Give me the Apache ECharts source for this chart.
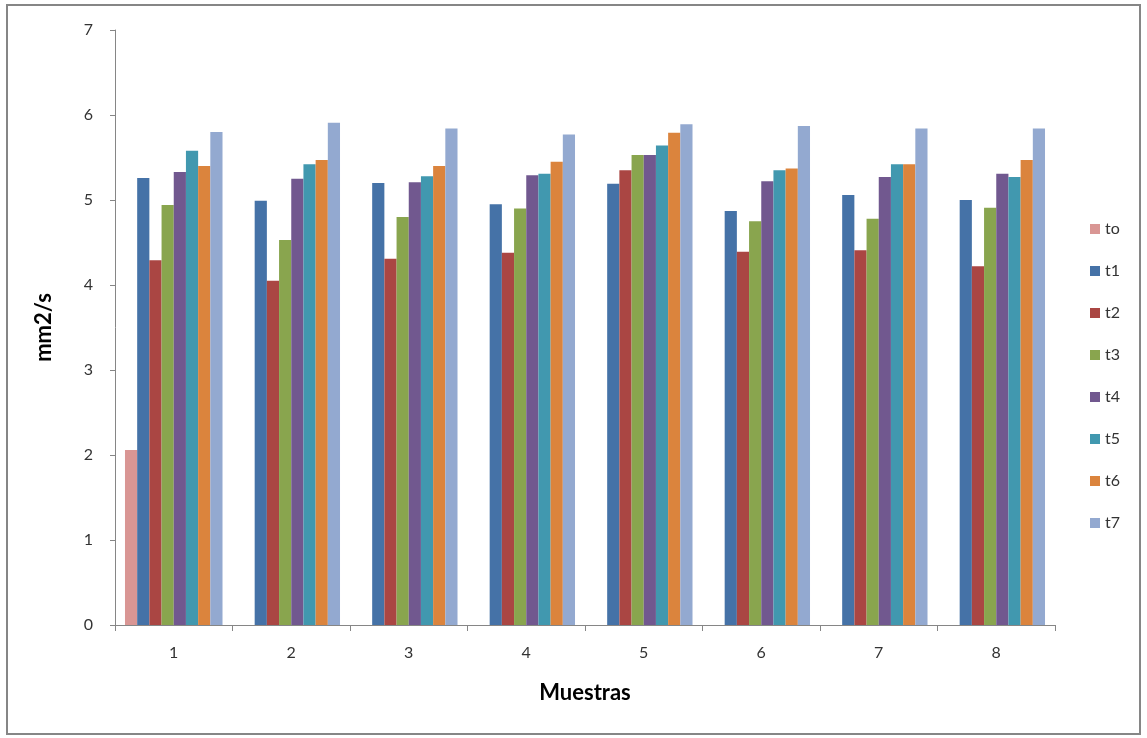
<!DOCTYPE html>
<html>
<head>
<meta charset="utf-8">
<script src="https://cdn.jsdelivr.net/npm/echarts@6/dist/echarts.min.js"></script>
<style>
  html, body { margin: 0; padding: 0; background: #fff; }
  #chart { width: 1147px; height: 738px; }
</style>
</head>
<body>
<div id="chart"></div>
<script>
// Samples on the category axis
const muestras = ['1', '2', '3', '4', '5', '6', '7', '8'];

// Viscosity (mm2/s) per sample at each time point
const to = [2.06, null, null, null, null, null, null, null];
const t1 = [5.26, 4.99, 5.20, 4.95, 5.19, 4.87, 5.06, 5.00];
const t2 = [4.29, 4.05, 4.31, 4.38, 5.35, 4.39, 4.41, 4.22];
const t3 = [4.94, 4.53, 4.80, 4.90, 5.53, 4.75, 4.78, 4.91];
const t4 = [5.33, 5.25, 5.21, 5.29, 5.53, 5.22, 5.27, 5.31];
const t5 = [5.58, 5.42, 5.28, 5.31, 5.64, 5.35, 5.42, 5.27];
const t6 = [5.40, 5.47, 5.40, 5.45, 5.79, 5.37, 5.42, 5.47];
const t7 = [5.80, 5.91, 5.84, 5.77, 5.89, 5.87, 5.84, 5.84];

const seriesNames = ['to', 't1', 't2', 't3', 't4', 't5', 't6', 't7'];
const seriesData = [to, t1, t2, t3, t4, t5, t6, t7];
const colors = ['#d99694', '#4572a7', '#aa4643', '#89a54e', '#71588f', '#4198af', '#db843d', '#93a9d0'];

const font = 'Lato, "Open Sans", sans-serif';
const chart = echarts.init(document.getElementById('chart'));

chart.setOption({
  animation: false,
  color: colors,
  graphic: [{
    type: 'rect',
    shape: { x: 7, y: 5, width: 1133, height: 729 },
    style: { fill: 'none', stroke: '#868686', lineWidth: 2 },
    silent: true
  }],
  grid: { left: 115, right: 92, top: 30, bottom: 113 },
  legend: {
    orient: 'vertical',
    left: 1085,
    top: 216,
    itemWidth: 10,
    itemHeight: 10,
    itemGap: 26,
    icon: 'rect',
    textStyle: { fontFamily: font, fontSize: 16, color: '#333' },
    data: seriesNames
  },
  xAxis: {
    type: 'category',
    data: muestras,
    name: 'Muestras',
    nameLocation: 'middle',
    nameGap: 57,
    nameTextStyle: { fontFamily: font, fontSize: 22, fontWeight: 'bold', color: '#000' },
    axisLine: { lineStyle: { color: '#868686', width: 1 } },
    axisTick: { show: true, length: 6, lineStyle: { color: '#868686' } },
    axisLabel: { fontFamily: font, fontSize: 16, color: '#333', margin: 20 }
  },
  yAxis: {
    type: 'value',
    min: 0,
    max: 7,
    interval: 1,
    name: 'mm2/s',
    nameLocation: 'middle',
    nameGap: 60,
    nameTextStyle: { fontFamily: font, fontSize: 22, fontWeight: 'bold', color: '#000' },
    axisLine: { show: true, lineStyle: { color: '#868686', width: 1 } },
    axisTick: { show: true, length: 5, lineStyle: { color: '#868686' } },
    axisLabel: { fontFamily: font, fontSize: 16, color: '#333', margin: 22 },
    splitLine: { show: false }
  },
  series: seriesNames.map((name, i) => ({
    name: name,
    type: 'bar',
    data: seriesData[i],
    barGap: '0%',
    barCategoryGap: '17%',
    itemStyle: { color: colors[i] }
  }))
});
</script>
</body>
</html>
